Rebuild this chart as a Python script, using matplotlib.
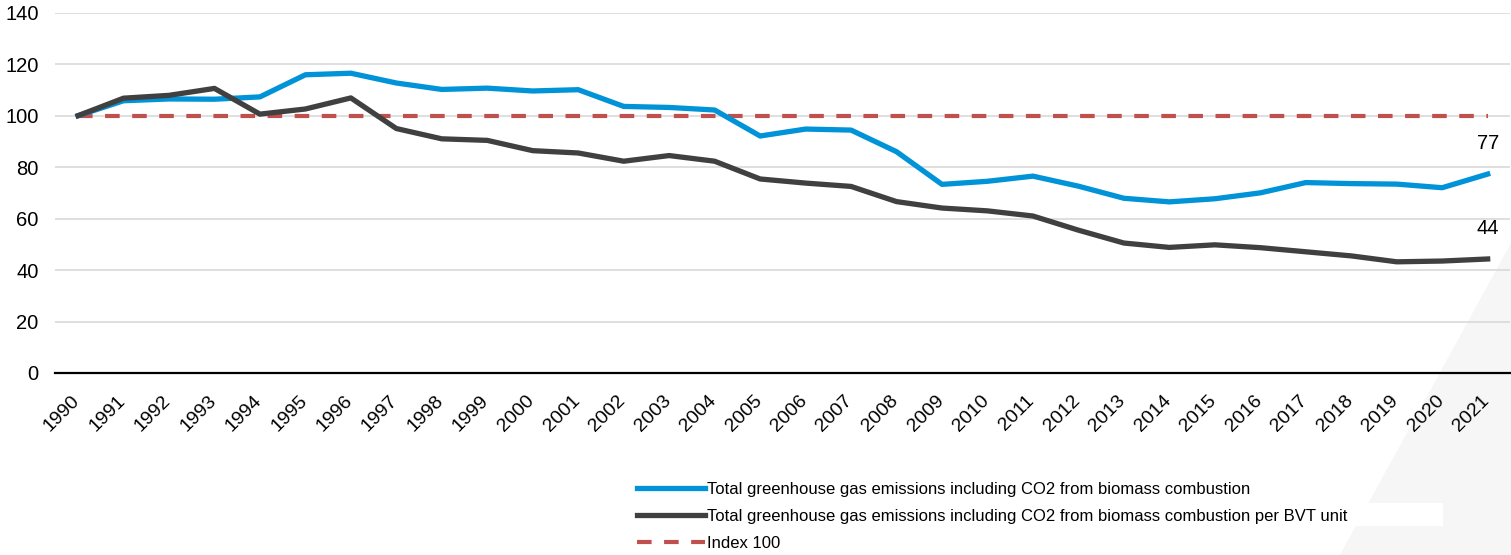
import matplotlib
matplotlib.use("Agg")
import matplotlib.pyplot as plt
import matplotlib.transforms as mtransforms
from matplotlib.patches import Polygon, Rectangle

plt.rcParams["font.family"] = ["Liberation Sans", "DejaVu Sans"]

# ── Data (index, 1990 = 100) ─────────────────────────────────────────────────
years = list(range(1990, 2022))
ghg_total = [100, 105.8, 106.5, 106.4, 107.3, 115.9, 116.5, 112.7, 110.2, 110.7,
             109.6, 110.1, 103.6, 103.2, 102.2, 92.1, 94.8, 94.4, 86.0, 73.3,
             74.5, 76.5, 72.6, 67.9, 66.5, 67.7, 70.0, 74.0, 73.6, 73.4,
             72.0, 77.3]
ghg_per_bvt = [100, 106.8, 107.9, 110.6, 100.6, 102.6, 106.9, 95.0, 91.0, 90.4,
               86.4, 85.5, 82.3, 84.5, 82.3, 75.4, 73.8, 72.5, 66.6, 64.1,
               63.0, 61.0, 55.5, 50.5, 48.8, 49.8, 48.7, 47.1, 45.5, 43.2,
               43.5, 44.3]
index_100 = [100] * len(years)

labels = ["Total greenhouse gas emissions including CO2 from biomass combustion",
          "Total greenhouse gas emissions including CO2 from biomass combustion per BVT unit",
          "Index 100"]

BLUE = "#0093d8"
DARK = "#404040"
RED = "#c0504d"

fig = plt.figure(figsize=(15.11, 5.55), dpi=100)

# background decoration (light grey wedge bottom right) + white strip behind legend row
fig.patches.append(Polygon([(1340 / 1511, 0), (1, 312 / 555), (1, 0)], closed=True,
                           transform=fig.transFigure, facecolor="#f6f6f6",
                           edgecolor="none", zorder=0))
fig.patches.append(Rectangle((705 / 1511, 1 - 526 / 555), (1443 - 705) / 1511, 23 / 555,
                             transform=fig.transFigure, facecolor="white",
                             edgecolor="none", zorder=0.5))

ax = fig.add_axes([0.0366, 0.328, 0.963, 0.649])
ax.set_zorder(2)
ax.patch.set_alpha(0)

x = list(range(len(years)))
ax.plot(x, ghg_total, color=BLUE, lw=3.8, solid_joinstyle="round", zorder=4, label=labels[0])
ax.plot(x, ghg_per_bvt, color=DARK, lw=3.8, solid_joinstyle="round", zorder=5, label=labels[1])
ax.plot(x, index_100, color=RED, lw=3, dashes=(3.5, 3), zorder=3, label=labels[2])

# end labels
ax.text(x[-1], ghg_total[-1] + 8, f"{ghg_total[-1]:.0f}", ha="center", va="bottom", fontsize=14.5)
ax.text(x[-1], ghg_per_bvt[-1] + 8, f"{ghg_per_bvt[-1]:.0f}", ha="center", va="bottom", fontsize=14.5)

ax.set_xlim(-0.5, len(years) - 0.5)
ax.set_ylim(0, 140)
ax.set_yticks(range(0, 141, 20))
ax.set_xticks(x)
ax.tick_params(axis="y", labelsize=14.5, length=0, pad=12)
ax.tick_params(axis="x", length=0, pad=8)
ax.set_xticklabels([str(y) for y in years], rotation=45, ha="right", rotation_mode="anchor",
                   fontsize=14)
# nudge the rotated year labels so their top-right corner sits under the tick
shift = mtransforms.ScaledTranslation(-7 / 100, -8 / 100, fig.dpi_scale_trans)
for lbl in ax.get_xticklabels():
    lbl.set_transform(lbl.get_transform() + shift)
ax.grid(axis="y", color="#d9d9d9", lw=1.2)
ax.set_axisbelow(True)
for s in ["top", "right", "left"]:
    ax.spines[s].set_visible(False)
ax.spines["bottom"].set_color("black")
ax.spines["bottom"].set_linewidth(1.6)
ax.spines["bottom"].set_zorder(6)

fig.legend(loc="upper left", bbox_to_anchor=(630 / 1511, 1 - 475 / 555),
           frameon=False, ncol=1, handlelength=4.1, handletextpad=0.1,
           labelspacing=0.72, borderaxespad=0, prop={"size": 12})

fig.savefig("out.png", dpi=100)
plt.close(fig)
